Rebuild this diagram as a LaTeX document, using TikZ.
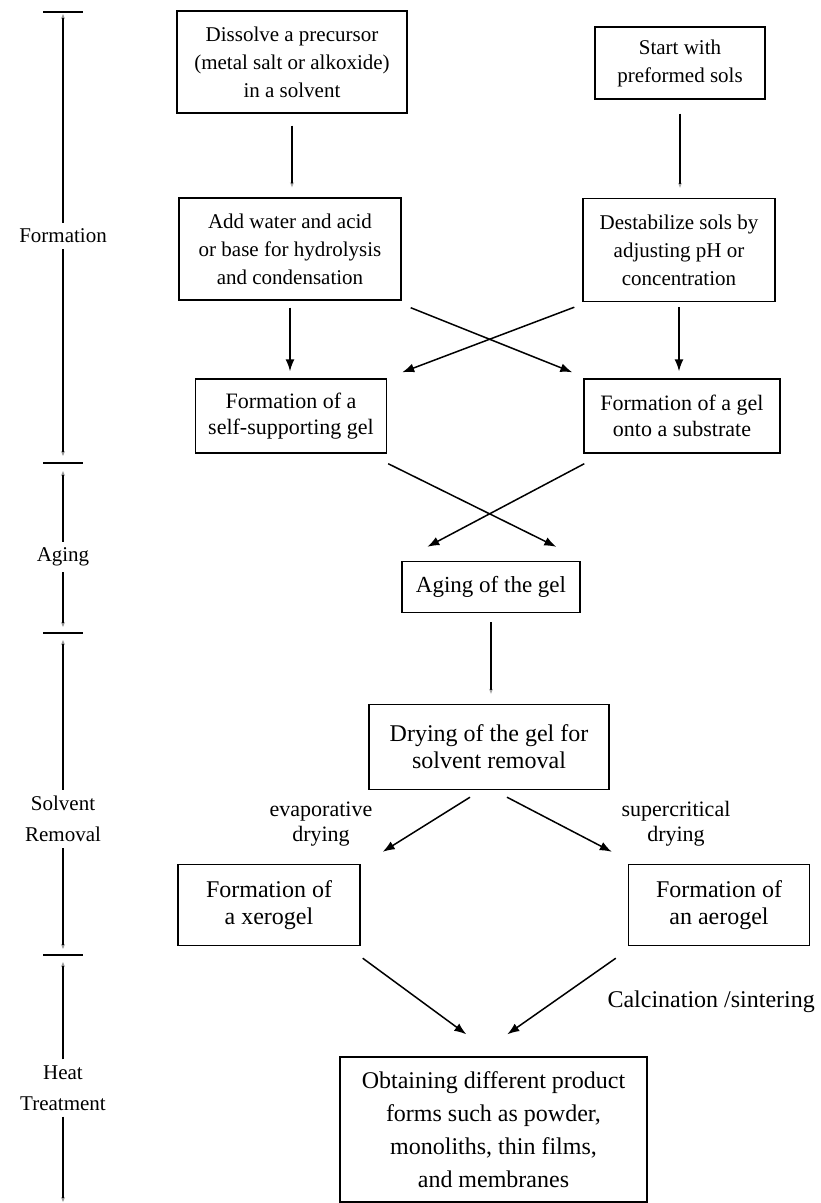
\documentclass[tikz,border=0pt]{standalone}
\usepackage{fontspec}
\setmainfont{Liberation Serif}
\usetikzlibrary{arrows.meta,calc}
\begin{document}
\begin{tikzpicture}[x=1pt,y=-1pt,
  box/.style={draw, line width=1.4pt, inner sep=0pt, align=center},
  arr/.style={line width=1.5pt, -{Latex[length=12pt,width=9pt]}},
  faint/.style={line width=1.5pt, -{Stealth[length=5pt,width=4pt,color=black!35]}},
  tlarr/.style={line width=1.5pt, -{Stealth[length=5pt,width=4pt,color=black!40]}},
  bar/.style={line width=1.7pt},
  tlab/.style={align=center, inner xsep=0pt, inner ysep=6pt, font=\fontsize{21}{31}\selectfont},
  lab/.style={align=center, inner sep=0pt, font=\fontsize{22}{25}\selectfont},
  fA/.style={font=\fontsize{21}{28}\selectfont},
  fB/.style={font=\fontsize{22}{26}\selectfont},
  fE/.style={font=\fontsize{23}{28}\selectfont},
  fC/.style={font=\fontsize{24}{27}\selectfont},
  fD/.style={font=\fontsize{24}{33}\selectfont}
]
\useasboundingbox (0,0) rectangle (821,1203);

% ---- timeline ----
\coordinate (bar0) at (63,12);
\coordinate (bar1) at (63,463);
\coordinate (bar2) at (63,633);
\coordinate (bar3) at (63,955);
\coordinate (barE) at (63,1202);
\foreach \b in {bar0,bar1,bar2,bar3}
  \draw[bar] ($(\b)+(-20,0)$) -- ($(\b)+(20,0)$);
\node[tlab] (tF) at (63,236) {Formation};
\node[tlab] (tA) at (63,557) {Aging};
\node[tlab] (tS) at (63,819) {Solvent\\Removal};
\node[tlab] (tH) at (63,1088) {Heat\\Treatment};
\draw[tlarr] (tF.north) -- ($(bar0)+(0,2)$);
\draw[tlarr] (tF.south) -- ($(bar1)+(0,-7)$);
\draw[tlarr] (tA.north) -- ($(bar1)+(0,8)$);
\draw[tlarr] (tA.south) -- ($(bar2)+(0,-6)$);
\draw[tlarr] (tS.north) -- ($(bar2)+(0,7)$);
\draw[tlarr] (tS.south) -- ($(bar3)+(0,-6)$);
\draw[tlarr] (tH.north) -- ($(bar3)+(0,7)$);
\draw[tlarr] (tH.south) -- (barE);

% ---- boxes ----
\node[box, fA, minimum width=230, minimum height=102] (b1) at (292,62)
  {Dissolve a precursor\\(metal salt or alkoxide)\\in a solvent};
\node[box, fA, minimum width=170, minimum height=72] (b2) at (680,63)
  {Start with\\preformed sols};
\node[box, fA, minimum width=222, minimum height=102] (b3) at (290,249)
  {Add water and acid\\or base for hydrolysis\\and condensation};
\node[box, fA, minimum width=192, minimum height=103] (b4) at (679,250)
  {Destabilize sols by\\adjusting pH or\\concentration};
\node[box, fB, minimum width=191, minimum height=74] (b5) at (291,416)
  {Formation of a\\self-supporting gel};
\node[box, fB, minimum width=196, minimum height=74] (b6) at (682,416)
  {Formation of a gel\\onto a substrate};
\node[box, fE, minimum width=178, minimum height=51] (ag) at (491,587)
  {Aging of the gel};
\node[box, fC, minimum width=240, minimum height=85] (dr) at (489,747)
  {Drying of the gel for\\solvent removal};
\node[box, fC, minimum width=182, minimum height=81] (xe) at (269,905)
  {Formation of\\a xerogel};
\node[box, fC, minimum width=181, minimum height=81] (ae) at (719,905)
  {Formation of\\an aerogel};
\node[box, fD, minimum width=307, minimum height=145] (fi) at (493.5,1129.5)
  {Obtaining different product\\forms such as powder,\\monoliths, thin films,\\and membranes};

% ---- labels ----
\node[lab] (lev) at (321,824) {evaporative\\drying};
\node[lab] (lsc) at (676,824) {supercritical\\drying};
\node[lab, font=\fontsize{24}{27}\selectfont, anchor=east] (lcs) at (815,1002) {Calcination /sintering};

% ---- connectors ----
\draw[faint, shorten <=12pt, shorten >=10pt] (b1.south) -- (b1.south |- b3.north);
\draw[faint, shorten <=14pt, shorten >=10pt] (b2.south) -- (b2.south |- b4.north);
\draw[arr, shorten <=7pt, shorten >=7pt] (b3.south) -- (b3.south |- b5.north);
\draw[arr, shorten <=5pt, shorten >=7pt] (b4.south) -- (b4.south |- b6.north);
\draw[arr] ($(b3.south east)+(9,7)$) -- ($(b6.north west)+(-11,-6)$);
\draw[arr] ($(b4.south west)+(-8,5)$) -- ($(b5.north east)+(15,-6)$);
\draw[arr] ($(b5.south east)+(1,10)$) -- ($(ag.north west)+(155,-14)$);
\draw[arr] ($(b6.south west)+(1,10)$) -- ($(ag.north west)+(26,-14)$);
\draw[faint, shorten <=9pt, shorten >=10pt] (ag.south) -- (ag.south |- dr.north);
\draw[arr] ($(dr.south)+(-19,7)$) -- ($(xe.north east)+(22,-12)$);
\draw[arr] ($(dr.south)+(18,7)$) -- ($(ae.north west)+(-16,-12)$);
\draw[arr] ($(xe.south east)+(2,12)$) -- ($(fi.north west)+(127,-22)$);
\draw[arr] ($(ae.south west)+(-12,12)$) -- ($(fi.north west)+(168,-22)$);
\end{tikzpicture}
\end{document}
